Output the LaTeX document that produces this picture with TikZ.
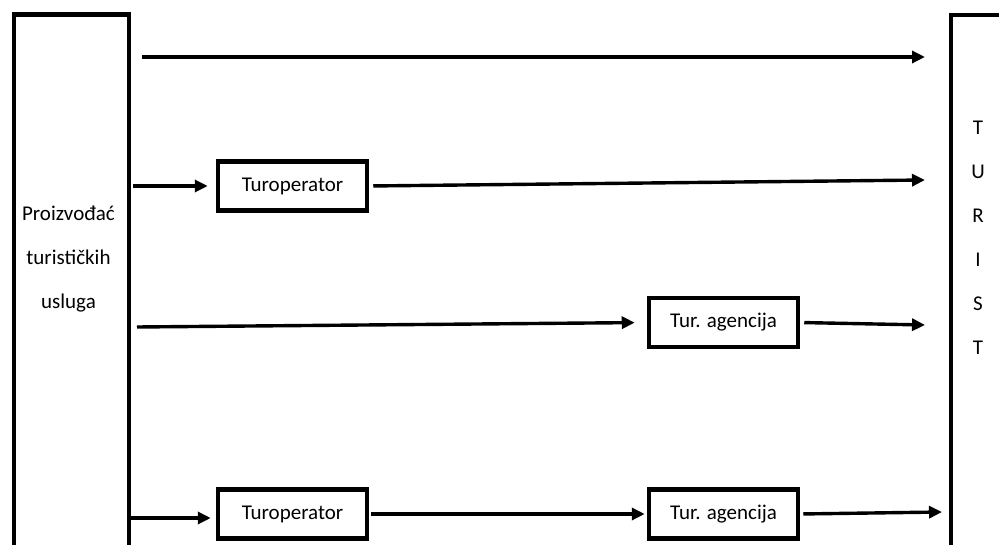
\documentclass[tikz,border=0pt]{standalone}
\usepackage{fontspec}
\setmainfont{Carlito}
\usetikzlibrary{arrows.meta}
\begin{document}
\begin{tikzpicture}[x=1pt,y=-1pt,
  lbl/.style={font=\fontsize{21}{44}\selectfont},
  box/.style={draw,line width=4.5pt,minimum width=149pt,minimum height=49pt,inner sep=0pt,lbl},
  side/.style={draw,line width=4.2pt,inner sep=0pt,minimum height=580pt,anchor=north west},
  arr/.style={line width=3.4pt,-{Triangle[length=13pt,width=12pt]}}]
\useasboundingbox (0,0) rectangle (999,545);
\clip (0,0) rectangle (999,545);
% side boxes
\node[side,minimum width=115pt] (prod) at (11.5,12.5) {};
\node[side,minimum width=100pt] (tur) at (949,13) {};
\node[lbl,align=center] (prodtext) at (68.5,259) {Proizvođać\\turističkih\\usluga};
\node[lbl,align=center] (turtext) at (978,237.5) {T\\U\\R\\I\\S\\T};
% intermediaries
\node[box] (to1) at (292.5,186) {Turoperator};
\node[box] (ag1) at (723.5,322.5) {Tur. agencija};
\node[box] (to2) at (292.5,514) {Turoperator};
\node[box] (ag2) at (723.5,514) {Tur. agencija};
% free ends
\coordinate (s1) at (142,57);
\coordinate (e1) at (925,57);
\coordinate (s2) at (133,186);
\coordinate (e2) at (925,180);
\coordinate (s3) at (137,327);
\coordinate (e3) at (925,325);
\coordinate (s4) at (128,518);
\coordinate (e4) at (942,512);
% connectors
\draw[arr] (s1) -- (e1);
\draw[arr,shorten >=8pt] (s2) -- (to1.west);
\draw[arr,shorten <=4pt] (to1.east) -- (e2);
\draw[arr,shorten >=12pt] (s3) -- (ag1.west);
\draw[arr,shorten <=4pt] (ag1.east) -- (e3);
\draw[arr,shorten >=5pt] (s4) -- (s4 -| to2.west);
\draw[arr,shorten <=2pt,shorten >=2pt] (to2.east) -- (ag2.west);
\draw[arr,shorten <=3pt] (ag2.east) -- (e4);
\end{tikzpicture}
\end{document}
